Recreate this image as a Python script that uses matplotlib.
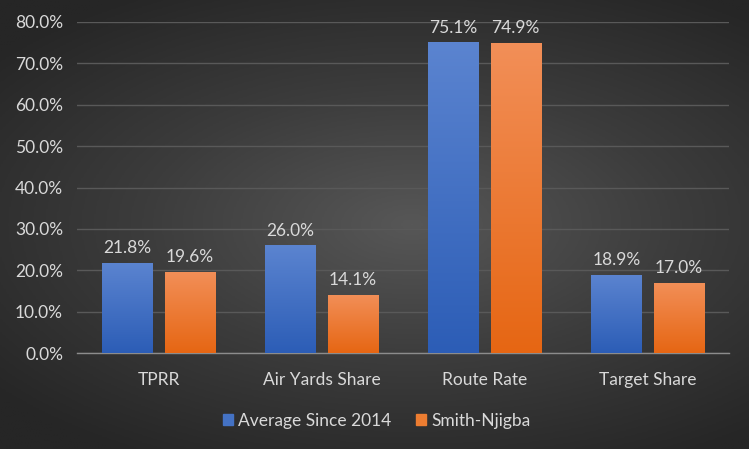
import numpy as np
import matplotlib.pyplot as plt
from matplotlib.colors import LinearSegmentedColormap
from matplotlib.patches import Patch

categories = ["TPRR", "Air Yards Share", "Route Rate", "Target Share"]
avg_since_2014 = [21.8, 26.0, 75.1, 18.9]
smith_njigba = [19.6, 14.1, 74.9, 17.0]
series_names = ["Average Since 2014", "Smith-Njigba"]
yticks = [0, 10, 20, 30, 40, 50, 60, 70, 80]

text_col = "#d9d9d9"
plt.rcParams['font.family'] = ['Lato', 'DejaVu Sans']

fig = plt.figure(figsize=(7.49, 4.49), dpi=100)

# radial background, lighter in the middle
bg = fig.add_axes([0, 0, 1, 1], zorder=-10)
yy, xx = np.mgrid[0:1:300j, 0:1:500j]
r = np.sqrt(((xx - 0.55) / 0.9) ** 2 + ((yy - 0.5) / 0.75) ** 2)
bg_cmap = LinearSegmentedColormap.from_list("bg", ["#575757", "#3c3c3c", "#262626"])
bg.imshow(r, cmap=bg_cmap, aspect="auto", extent=[0, 1, 0, 1], vmin=0, vmax=0.8)
bg.axis("off")

ax = fig.add_axes([77 / 749, 1 - 353 / 449, (729 - 77) / 749, (353 - 22) / 449])
ax.set_facecolor("none")

x = np.arange(len(categories))
w = 0.307
off = (w + 0.074) / 2
blue_cmap = LinearSegmentedColormap.from_list("b", ["#2c5db6", "#5b84d0"])
orange_cmap = LinearSegmentedColormap.from_list("o", ["#e66613", "#f28f58"])

grad = np.linspace(0, 1, 256).reshape(-1, 1)
for vals, dx, cmap, solid in [(avg_since_2014, -off, blue_cmap, "#4472c4"),
                              (smith_njigba, off, orange_cmap, "#ed7d31")]:
    bars = ax.bar(x + dx, vals, width=w, color=solid, zorder=2)
    for b, v in zip(bars, vals):
        x0 = b.get_x()
        # each bar gets its own top-to-bottom gradient
        im = ax.imshow(grad, cmap=cmap, origin="lower", aspect="auto",
                       extent=[x0, x0 + w, 0, v], zorder=3)
        im.set_clip_path(b)
        ax.text(b.get_x() + w / 2, v + 1.6, f"{v:.1f}%", ha="center", va="bottom",
                color=text_col, fontsize=12.5)

ax.set_xlim(-0.5, 3.5)
ax.set_ylim(0, 80)
ax.set_yticks(yticks)
ax.set_yticklabels([f"{t:.1f}%" for t in yticks])
ax.set_xticks(x)
ax.set_xticklabels(categories)
ax.tick_params(colors=text_col, labelsize=12.5, length=0)
ax.tick_params(axis="x", pad=14)
ax.tick_params(axis="y", pad=10)
ax.grid(axis="y", color="#595959", linewidth=1, zorder=0)
for s in ["top", "right", "left"]:
    ax.spines[s].set_visible(False)
ax.spines["bottom"].set_color("#8c8c8c")
ax.spines["bottom"].set_linewidth(1)

handles = [Patch(color="#4472c4"), Patch(color="#ed7d31")]
fig.legend(handles, series_names, loc="center", bbox_to_anchor=(0.503, 1 - 421 / 449),
           ncol=2, frameon=False, fontsize=12.5, labelcolor=text_col,
           handlelength=0.6, handleheight=0.6, handletextpad=0.3, columnspacing=1.4)

fig.savefig("out.png", dpi=100)
